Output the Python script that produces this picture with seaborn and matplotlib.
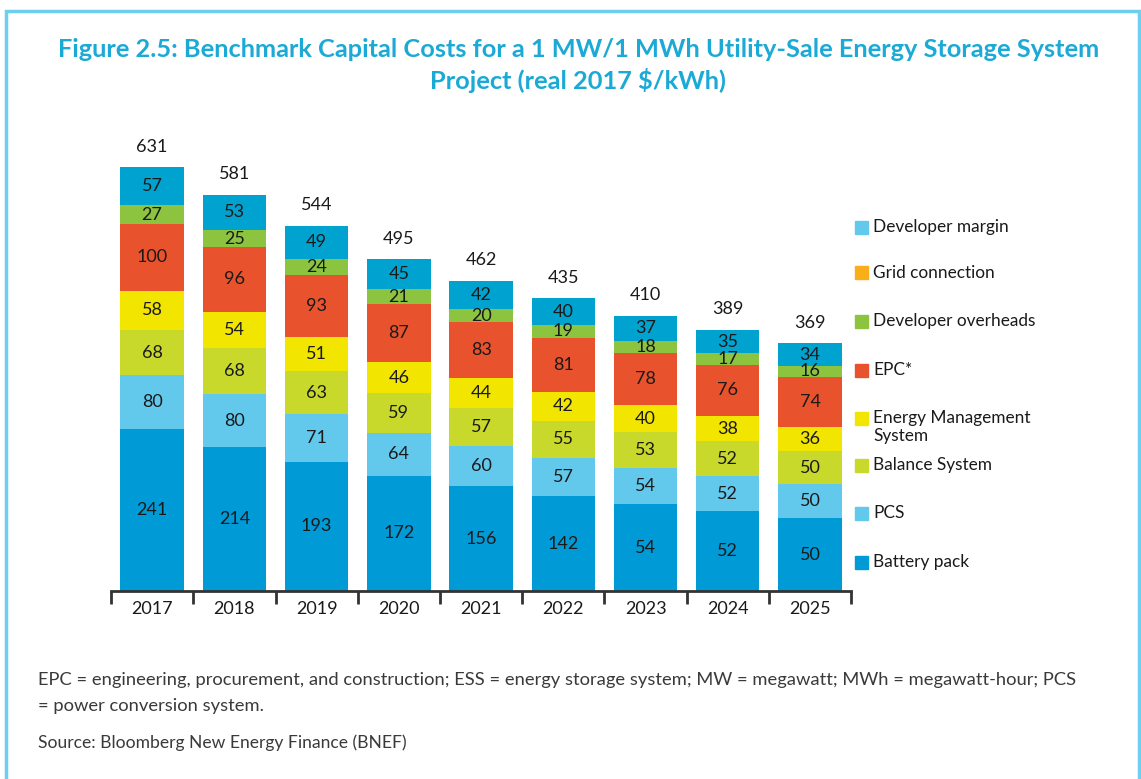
import matplotlib
matplotlib.use("Agg")
import matplotlib.pyplot as plt
from matplotlib.patches import Rectangle
import pandas as pd
import seaborn as sns

years = ["2017", "2018", "2019", "2020", "2021", "2022", "2023", "2024", "2025"]
totals = [631, 581, 544, 495, 462, 435, 410, 389, 369]

# components, bottom to top
battery_pack = [241, 214, 193, 172, 156, 142, 130, 119, 109]
battery_pack_labels = [241, 214, 193, 172, 156, 142, 54, 52, 50]  # as printed in the source
pcs = [80, 80, 71, 64, 60, 57, 54, 52, 50]
balance_system = [68, 68, 63, 59, 57, 55, 53, 52, 50]
energy_mgmt = [58, 54, 51, 46, 44, 42, 40, 38, 36]
epc = [100, 96, 93, 87, 83, 81, 78, 76, 74]
grid_connection = [0, 0, 0, 0, 0, 0, 0, 0, 0]
dev_overheads = [27, 25, 24, 21, 20, 19, 18, 17, 16]
dev_margin = [57, 53, 49, 45, 42, 40, 37, 35, 34]

components = ["Battery pack", "PCS", "Balance System", "Energy Management\nSystem",
              "EPC*", "Grid connection", "Developer overheads", "Developer margin"]
series = [battery_pack, pcs, balance_system, energy_mgmt, epc,
          grid_connection, dev_overheads, dev_margin]
labels = [battery_pack_labels, pcs, balance_system, energy_mgmt, epc,
          None, dev_overheads, dev_margin]
bar_colors = ["#009ad7", "#62c9ec", "#c8d92b", "#f2e600", "#e8522c",
              "#f9ae1a", "#8dc43f", "#00a2d0"]
legend_colors = ["#009ad7", "#62c9ec", "#c8d92b", "#f2e600", "#e8522c",
                 "#f9ae1a", "#8dc43f", "#62c9ec"]

sns.set_style("white")
plt.rcParams["font.family"] = ["Lato", "DejaVu Sans"]

fig = plt.figure(figsize=(11.41, 7.79), dpi=100)
ax = fig.add_axes([0.0973, 0.241, 0.6487, 0.604])

bottom = [0] * len(years)
for name, vals, labs, col in zip(components, series, labels, bar_colors):
    df = pd.DataFrame({"year": years, "value": vals})
    sns.barplot(data=df, x="year", y="value", color=col, width=0.77,
                errorbar=None, bottom=bottom, saturation=1, linewidth=0, ax=ax)
    cont = ax.containers[-1]
    if labs is not None:
        ax.bar_label(cont, labels=[str(v) for v in labs], label_type="center",
                     fontsize=13, color="#1a1a1a")
    bottom = [b + v for b, v in zip(bottom, vals)]

ax.bar_label(ax.containers[-1], labels=[str(t) for t in totals], padding=9,
             fontsize=13, color="#1a1a1a")

ax.set_xlim(-0.5, len(years) - 0.5)
ax.set_ylim(0, 700)
ax.set_xlabel("")
ax.set_ylabel("")
ax.set_yticks([])
for s in ["top", "left", "right"]:
    ax.spines[s].set_visible(False)
ax.spines["bottom"].set_linewidth(2)
ax.spines["bottom"].set_color("#333333")
ax.set_xticks([i for i in range(len(years))])
ax.set_xticklabels(years, fontsize=13, color="#1a1a1a")
ax.tick_params(axis="x", which="major", length=0, pad=7)
ax.set_xticks([i - 0.5 for i in range(len(years) + 1)], minor=True)
ax.tick_params(axis="x", which="minor", length=9, width=2, color="#333333",
               direction="out", bottom=True)

# legend, drawn beside the plot
legend_order = [7, 5, 6, 4, 3, 2, 1, 0]
square_y = [227, 273, 321, 370, 418, 465, 513, 562]
text_y = [227, 273, 321, 370, 427, 465, 513, 562]
for idx, sy, ty in zip(legend_order, square_y, text_y):
    fig.patches.append(Rectangle((855 / 1141, 1 - (sy + 6.5) / 779), 13 / 1141, 13 / 779,
                                 transform=fig.transFigure, color=legend_colors[idx]))
    fig.text(873 / 1141, 1 - ty / 779, components[idx], fontsize=12.4, color="#1a1a1a",
             va="center", ha="left", linespacing=1.1)

fig.text(0.507, 0.916, "Figure 2.5: Benchmark Capital Costs for a 1 MW/1 MWh Utility-Sale Energy Storage System\nProject (real 2017 $/kWh)",
         ha="center", va="center", fontsize=18.3, fontweight="bold", color="#1ba9d6",
         linespacing=1.3)

fig.text(0.0333, 0.127, "EPC = engineering, procurement, and construction; ESS = energy storage system; MW = megawatt; MWh = megawatt-hour; PCS",
         fontsize=13.2, color="#3a3a3a", va="center")
fig.text(0.0333, 0.094, "= power conversion system.", fontsize=13.2, color="#3a3a3a", va="center")
fig.text(0.0333, 0.046, "Source: Bloomberg New Energy Finance (BNEF)", fontsize=12.6,
         color="#3a3a3a", va="center")

# light blue frame
fig.patches.append(Rectangle((0.005, -0.05), 0.993, 1.036, transform=fig.transFigure,
                             fill=False, edgecolor="#6dcff0", linewidth=2.5))

fig.savefig("out.png", dpi=100)
